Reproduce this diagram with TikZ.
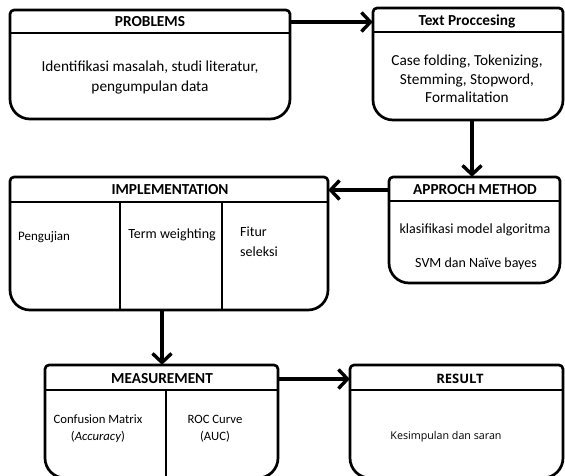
\documentclass[tikz,border=0pt]{standalone}
\usepackage{fontspec}
\setmainfont{Carlito}
\newfontfamily\osans{Open Sans}
\usetikzlibrary{arrows.meta,fit}
\tikzset{
  x=1pt, y=1pt,
  boxline/.style={line width=2.7pt, line join=round},
  hdrline/.style={line width=1.8pt},
  divline/.style={line width=2.4pt},
  arr/.style={line width=3.4pt, -{Straight Barb[length=9pt,width=19pt,line width=3.4pt]}},
  ttl/.style={font=\fontsize{15.3}{17}\selectfont\bfseries, inner sep=0},
  body/.style={align=center, inner sep=0},
}
\newcommand\flowbox[6]{%
  \node[fit={(#2,-#3) (#4,-#5)}, inner sep=0, draw=none] (#1) {};
  \draw[boxline] (#2,{-#3-4}) arc[start angle=180,end angle=90,radius=4pt]
    -- ({#4-4},-#3) arc[start angle=90,end angle=0,radius=4pt]
    -- (#4,{-#5+20}) arc[start angle=0,end angle=-90,radius=20pt]
    -- ({#2+20},-#5) arc[start angle=270,end angle=180,radius=20pt] -- cycle;
  \draw[hdrline] (#2,-#6) -- (#4,-#6);
}
\begin{document}
\begin{tikzpicture}
\useasboundingbox[fill=white] (0,0) rectangle (565,-475);
% PROBLEMS
\flowbox{prob}{10}{10}{290}{119}{33}
\node[ttl] (probT) at (150,-22) {PROBLEMS};
\node[body, font=\fontsize{15.3}{20}\selectfont] (probB) at (150,-77) {Identifikasi masalah, studi literatur,\\pengumpulan data};
% Text processing
\flowbox{tp}{373}{8}{563}{120}{32}
\node[ttl] (tpT) at (467,-21) {Text Proccesing};
\node[body, font=\fontsize{15.3}{18.5}\selectfont] (tpB) at (467,-79) {Case folding, Tokenizing,\\Stemming, Stopword,\\Formalitation};
% Approach
\flowbox{app}{389}{177}{560}{283}{201}
\node[ttl] (appT) at (475,-190) {APPROCH METHOD};
\node[body, font=\fontsize{14}{15}\selectfont] (appB1) at (475,-230) {klasifikasi model algoritma};
\node[body, font=\fontsize{14}{15}\selectfont] (appB2) at (476,-264) {SVM dan Naïve bayes};
% Implementation
\flowbox{impl}{10}{177}{328}{310}{202}
\node[ttl] (implT) at (170,-190) {IMPLEMENTATION};
\draw[divline] (120,-202) -- (120,-310);
\draw[divline] (222,-202) -- (222,-310);
\node[body, anchor=west, font=\fontsize{13}{15}\selectfont] (impl1) at (18,-237) {Pengujian};
\node[body, font=\fontsize{14}{15}\selectfont] (impl2) at (172,-235) {Term weighting};
\node[body, align=left, anchor=north west, font=\fontsize{14}{20}\selectfont] (impl3) at (240,-227) {Fitur\\seleksi};
% Measurement
\flowbox{meas}{45}{365}{278}{478}{390}
\node[ttl] (measT) at (162,-379) {MEASUREMENT};
\draw[divline] (166,-390) -- (166,-478);
\node[body, font=\fontsize{12.7}{17}\selectfont] (meas1) at (98,-429) {Confusion Matrix\\(\textit{Accuracy})};
\node[body, font=\fontsize{12.7}{17}\selectfont] (meas2) at (215,-429) {ROC Curve\\(AUC)};
% Result
\flowbox{res}{350}{365}{563}{478}{390}
\node[inner sep=0, font=\osans\fontsize{13}{15}\selectfont\bfseries] (resT) at (460,-379) {RESULT};
\node[body, font=\osans\fontsize{10.7}{12}\selectfont] (resB) at (446,-437) {Kesimpulan dan saran};
% connectors
\coordinate (cx1) at (472,0);
\coordinate (cx2) at (162,0);
\draw[arr] (probT -| prob.east) -- (probT -| tp.west);
\draw[arr] (cx1 |- tp.south) -- (cx1 |- app.north);
\draw[arr] (appT -| app.west) -- (appT -| impl.east);
\draw[arr] (cx2 |- impl.south) -- (cx2 |- meas.north);
\draw[arr] (measT -| meas.east) -- (measT -| res.west);
\end{tikzpicture}
\end{document}
